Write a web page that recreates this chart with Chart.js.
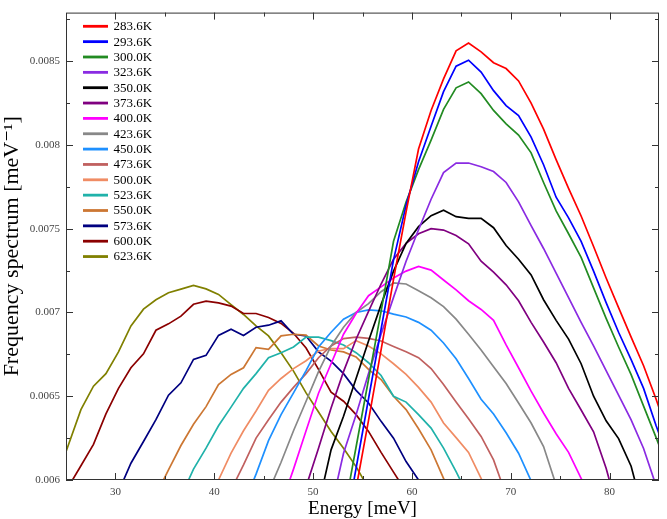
<!DOCTYPE html>
<html><head><meta charset="utf-8">
<script src="https://cdn.jsdelivr.net/npm/chart.js@4/dist/chart.umd.min.js"></script>
<style>html,body{margin:0;padding:0;background:#fff;}#wrap{width:667px;height:519px;}</style>
</head><body><div id="wrap"><canvas id="c" width="667" height="519"></canvas></div>
<script>
const N = null;
const energy = [23.98,25.25,26.51,27.78,29.04,30.31,31.57,32.84,34.10,35.37,
36.63,37.90,39.17,40.43,41.70,42.96,44.23,45.49,46.76,48.02,
49.29,50.55,51.82,53.08,54.35,55.61,56.88,58.14,59.41,60.67,
61.94,63.20,64.47,65.73,67.00,68.26,69.53,70.79,72.06,73.32,
74.59,75.85,77.12,78.38,79.65,80.91,82.18,83.44,84.71,85.97];

const xTickValues = [30,40,50,60,70,80];
const xTickLabels = ['30','40','50','60','70','80'];
const xMinorTicks = [35,45,55,65,75];
const yTickValues = [0.006,0.0065,0.007,0.0075,0.008,0.0085];
const yTickLabels = ['0.006','0.0065','0.007','0.0075','0.008','0.0085'];
const yMinorTicks = [0.00625,0.00675,0.00725,0.00775,0.00825,0.00875];

const temperatures = ['283.6K','293.6K','300.0K','323.6K','350.0K','373.6K','400.0K','423.6K','450.0K','473.6K','500.0K','523.6K','550.0K','573.6K','600.0K','623.6K'];
const colors = ['#ff0000','#0000ff','#228b22','#8a2be2','#000000','#800080','#ff00ff','#888888','#1e90ff','#c0605f','#f08c64','#20b2aa','#cc7733','#000080','#8b0000','#808000'];

const s283_6 = [N,N,N,N,N,N,N,N,N,N, N,N,N,N,N,N,N,N,N,N,
N,N,N,N,.00595,.006356,.006777,.007198,.0076,.007976,
.008206,.008394,.008562,.008608,.008556,.008491,.008456,.008382,.00825,.008094,
.007912,.007741,.007576,.007394,.007206,.007029,.006853,.006682,.006482,.006265];
const s293_6 = [N,N,N,N,N,N,N,N,N,N, N,N,N,N,N,N,N,N,N,N,
N,N,N,.00565,.00607,.006485,.0069,.007314,.00764,.0079,
.008112,.008318,.00847,.008506,.008435,.008324,.008235,.008176,.008047,.007882,
.007688,.007565,.007424,.007247,.007059,.006882,.006718,.006547,.006324,.00612];
const s300_0 = [N,N,N,N,N,N,N,N,N,N, N,N,N,N,N,N,N,N,N,N,
N,N,N,.00579,.006197,.0066,.007006,.007425,.007659,.007853,
.008029,.008212,.008341,.008376,.008306,.008206,.008126,.008059,.007953,.007776,
.007606,.00747,.007329,.007147,.006965,.006794,.006629,.006441,.006253,.00606];
const s323_6 = [N,N,N,N,N,N,N,N,N,N, N,N,N,N,N,N,N,N,N,N,
N,N,.00583,.00616,.00639,.006635,.00687,.00709,.007306,.007494,
.007676,.007835,.007892,.007892,.00787,.007841,.007776,.00766,.007518,.007382,
.007235,.007088,.006941,.0068,.006653,.006506,.006359,.006188,.005965,N];
const s350_0 = [N,N,N,N,N,N,N,N,N,N, N,N,N,N,N,N,N,N,N,N,
N,.00585,.00618,.00638,.006606,.00683,.007047,.007247,.007412,.007512,
.007578,.00761,.007572,.007562,.007562,.007506,.0074,.007318,.007224,.007076,
.006953,.006841,.006694,.0065,.006353,.006247,.006082,.0058,N,N];
const s373_6 = [N,N,N,N,N,N,N,N,N,N, N,N,N,N,N,N,N,N,N,N,
.00596,.00619,.00643,.006647,.00684,.007006,.00717,.007318,.007412,.00747,
.0075,.007492,.007459,.00741,.007306,.007241,.007165,.00707,.006941,.006824,
.0067,.006547,.006418,.006288,.00607,.0058,N,N,N,N];
const s400_0 = [N,N,N,N,N,N,N,N,N,N, N,N,N,N,N,N,N,N,.00585,.006065,
.006294,.006518,.006694,.00687,.006994,.0071,.007153,.007206,.007247,.007275,
.007253,.007194,.007135,.00707,.007018,.006953,.006806,.00667,.00653,.0064,
.006276,.006165,.00601,.00586,N,N,N,N,N,N];
const s423_6 = [N,N,N,N,N,N,N,N,N,N, N,N,N,N,N,N,N,.00593,.006106,.006294,
.00647,.006647,.0068,.006912,.007,.007053,.007124,.007176,.00717,.00713,
.007088,.007035,.00696,.00687,.006776,.006676,.006576,.00646,.00634,.0062,
.00597,N,N,N,N,N,N,N,N,N];
const s450_0 = [N,N,N,N,N,N,N,N,N,N, N,N,N,N,N,.00585,.006035,.006235,.00639,.00652,
.006653,.006794,.006882,.00696,.007,.007015,.00701,.00699,.006973,.006941,
.006894,.006818,.006724,.006606,.006482,.006394,.006282,.00616,.005995,.00583,
N,N,N,N,N,N,N,N,N,N];
const s473_6 = [N,N,N,N,N,N,N,N,N,N, N,N,N,N,.00594,.00609,.00625,.00636,.006465,.006553,
.006635,.00673,.0068,.006844,.006853,.006845,.00683,.006797,.006765,.00673,
.006665,.00657,.006465,.006365,.00626,.00612,.00591,N,N,N,
N,N,N,N,N,N,N,N,N,N];
const s500_0 = [N,N,N,N,N,N,N,N,N,N, N,N,.00589,.006,.00616,.006294,.006412,.006535,.006606,.006665,
.006712,.00677,.006785,.006784,.006832,.0068,.006753,.006694,.00663,.006553,
.006465,.00634,.006253,.006165,.00601,.00585,N,N,N,N,
N,N,N,N,N,N,N,N,N,N];
const s523_6 = [N,N,N,N,N,N,N,N,N,N, .0059,.006065,.00619,.006324,.006435,.006547,.006635,.00673,.00676,.006794,
.006853,.006853,.006832,.006806,.00676,.0067,.006624,.0065,.006465,.00639,
.00631,.00619,.00605,.0059,N,N,N,N,N,N,
N,N,N,N,N,N,N,N,N,N];
const s550_0 = [N,N,N,N,N,N,N,N,.00591,.00606, .006206,.006333,.006438,.006569,.00663,.00667,.00679,.00678,.00686,.00687,
.006865,.0068,.006776,.006765,.006735,.00666,.0066,.0065,.00642,.006306,
.00618,.00601,.00584,N,N,N,N,N,N,N,
N,N,N,N,N,N,N,N,N,N];
const s573_6 = [N,N,N,N,.00577,.00593,.0061,.00623,.00636,.006506,
.00658,.00672,.006744,.006863,.0069,.006863,.006912,.006924,.00695,.00687,
.00686,.006765,.00671,.006635,.006535,.00646,.00635,.00625,.00611,.006,
.00589,N,N,N,N,N,N,N,N,N,
N,N,N,N,N,N,N,N,N,N];
const s600_0 = [.00584,.00596,.006085,.006213,.006395,.006547,.00667,.006753,.006894,.006932,
.006978,.007049,.007068,.007057,.007038,.006994,.006994,.00697,.006935,.006876,
.006788,.00666,.006524,.00647,.00639,.00629,.006165,.006047,.00593,N,
N,N,N,N,N,N,N,N,N,N,
N,N,N,N,N,N,N,N,N,N];
const s623_6 = [.006,.00621,.00642,.00656,.006635,.006765,.00692,.00702,.007076,.007118,
.007139,.007161,.007141,.007108,.007047,.006988,.00692,.00686,.00676,.00665,
.00652,.006406,.00629,.00619,.00608,.00595,N,N,N,N,
N,N,N,N,N,N,N,N,N,N,
N,N,N,N,N,N,N,N,N,N];

const seriesValues = [s283_6,s293_6,s300_0,s323_6,s350_0,s373_6,s400_0,s423_6,s450_0,s473_6,s500_0,s523_6,s550_0,s573_6,s600_0,s623_6];

const SERIF = '"Liberation Serif", "DejaVu Serif", serif';

const datasets = seriesValues.map((vals, k) => ({
  label: temperatures[k],
  data: energy.map((e, i) => ({x: e, y: vals[i]})),
  borderColor: colors[k],
  backgroundColor: colors[k],
  borderWidth: 1.7,
  pointRadius: 0,
  pointHoverRadius: 0,
  tension: 0,
  fill: false,
  spanGaps: false
}));

const framePlugin = {
  id: 'frame',
  afterDatasetsDraw(chart) {
    const {ctx, chartArea: {left, right, top, bottom}, scales: {x, y}} = chart;
    ctx.save();
    ctx.strokeStyle = '#333';
    ctx.lineWidth = 1;
    ctx.strokeRect(left + 0.5, top + 0.5, right - left - 1, bottom - top - 1);
    ctx.beginPath();
    const tickX = (v, len) => {
      const px = Math.round(x.getPixelForValue(v)) + 0.5;
      ctx.moveTo(px, bottom); ctx.lineTo(px, bottom - len);
      ctx.moveTo(px, top); ctx.lineTo(px, top + len);
    };
    const tickY = (v, len) => {
      const py = Math.round(y.getPixelForValue(v)) + 0.5;
      ctx.moveTo(left, py); ctx.lineTo(left + len, py);
      ctx.moveTo(right, py); ctx.lineTo(right - len, py);
    };
    xTickValues.forEach(v => tickX(v, 7));
    xMinorTicks.forEach(v => tickX(v, 4));
    yTickValues.forEach(v => tickY(v, 7));
    yMinorTicks.forEach(v => tickY(v, 4));
    ctx.stroke();
    ctx.restore();
  }
};

const legendPlugin = {
  id: 'innerLegend',
  afterDraw(chart) {
    const ctx = chart.ctx;
    ctx.save();
    ctx.font = '13px ' + SERIF;
    ctx.textBaseline = 'middle';
    ctx.textAlign = 'left';
    chart.data.datasets.forEach((ds, i) => {
      const yy = 26.3 + 15.35 * i;
      ctx.strokeStyle = ds.borderColor;
      ctx.lineWidth = 2.8;
      ctx.beginPath();
      ctx.moveTo(83, yy); ctx.lineTo(108, yy);
      ctx.stroke();
      ctx.fillStyle = '#000';
      ctx.fillText(ds.label, 113.5, yy + 0.5);
    });
    ctx.restore();
  }
};

new Chart(document.getElementById('c'), {
  type: 'line',
  data: { datasets },
  plugins: [framePlugin, legendPlugin],
  options: {
    responsive: false,
    animation: false,
    devicePixelRatio: 1,
    layout: { padding: { top: 8, right: 8, left: 0, bottom: 0 } },
    plugins: { legend: { display: false }, tooltip: { enabled: false } },
    scales: {
      x: {
        type: 'linear', min: 25, max: 85,
        afterBuildTicks: s => { s.ticks = xTickValues.map(v => ({value: v})); },
        afterFit: s => { s.height = 39; },
        ticks: {
          font: { family: SERIF, size: 11 }, color: '#444', padding: 6,
          maxRotation: 0, autoSkip: false,
          callback: (v, i) => xTickLabels[i]
        },
        grid: { display: false, drawTicks: false },
        border: { display: false },
        title: { display: true, text: 'Energy [meV]', font: { family: SERIF, size: 19 }, color: '#000', padding: { top: 0, bottom: -1 } }
      },
      y: {
        type: 'linear', min: 0.006, max: 0.00879,
        afterBuildTicks: s => { s.ticks = yTickValues.map(v => ({value: v})); },
        afterFit: s => { s.width = 66; },
        ticks: {
          font: { family: SERIF, size: 11 }, color: '#444', padding: 6,
          autoSkip: false,
          callback: (v, i) => yTickLabels[i]
        },
        grid: { display: false, drawTicks: false },
        border: { display: false },
        title: { display: true, text: 'Frequency spectrum [meV\u207B\u00B9]', font: { family: SERIF, size: 22 }, color: '#000', padding: { top: -1, bottom: 0 } }
      }
    }
  }
});
</script>
</body></html>
